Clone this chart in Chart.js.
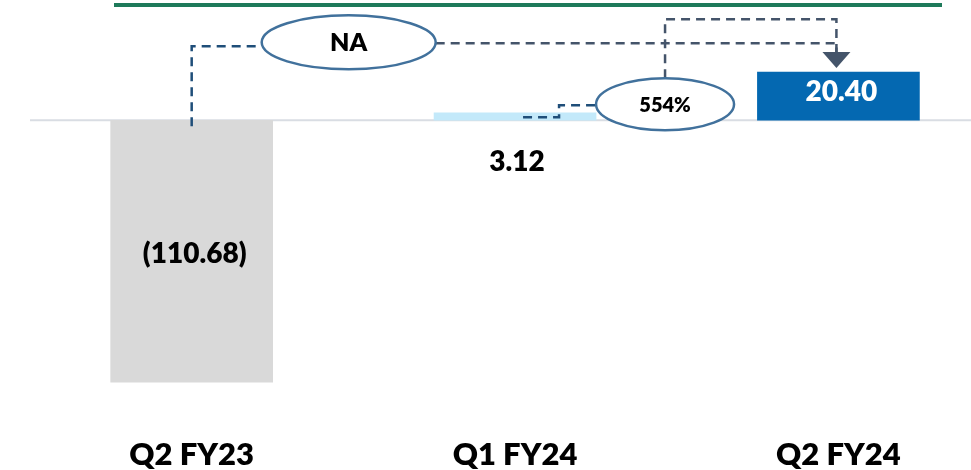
<!DOCTYPE html>
<html>
<head>
<meta charset="utf-8">
<script src="https://cdn.jsdelivr.net/npm/chart.js@4.4.1/dist/chart.umd.min.js"></script>
<style>
  html, body { margin: 0; padding: 0; background: #fff; overflow: hidden; }
  #wrap { position: relative; width: 971px; height: 470px; }
  #rule { position: absolute; left: 114px; top: 3px; width: 828px; height: 4px; background: #1e7a5a; }
</style>
</head>
<body>
<div id="wrap"><canvas id="c"></canvas><div id="rule"></div></div>
<script>
// Quarterly profit (₹ crore) and growth callouts
const quarters = ['Q2 FY23', 'Q1 FY24', 'Q2 FY24'];
const profit = [-110.68, 3.12, 20.40];
const barColors = ['#d9d9d9', '#c3e9fa', '#0468b1'];
const labelColors = ['#000000', '#000000', '#ffffff'];
const yoyLabel = 'NA';    // Q2 FY23 -> Q2 FY24
const qoqLabel = '554%';  // Q1 FY24 -> Q2 FY24

const FONT = 'Lato, "Open Sans", sans-serif';
const WEIGHT = '800';

function fmt(v) {
  const s = Math.abs(v).toFixed(2);
  return v < 0 ? '(' + s + ')' : s;
}

function polyline(ctx, pts) {
  ctx.beginPath();
  ctx.moveTo(pts[0][0], pts[0][1]);
  for (let i = 1; i < pts.length; i++) ctx.lineTo(pts[i][0], pts[i][1]);
  ctx.stroke();
}

function bubble(ctx, cx, cy, rx, ry, text, size) {
  ctx.save();
  ctx.setLineDash([]);
  ctx.beginPath();
  ctx.ellipse(cx, cy, rx, ry, 0, 0, Math.PI * 2);
  ctx.fillStyle = '#ffffff';
  ctx.fill();
  ctx.lineWidth = 2.5;
  ctx.strokeStyle = '#41719c';
  ctx.stroke();
  ctx.fillStyle = '#000';
  ctx.font = WEIGHT + ' ' + size + 'px ' + FONT;
  ctx.textAlign = 'center';
  ctx.textBaseline = 'middle';
  ctx.fillText(text, cx, cy + 1);
  ctx.restore();
}

// zero line behind the bars
const zeroLine = {
  id: 'zeroLine',
  beforeDatasetsDraw(chart) {
    const { ctx, chartArea, scales: { y } } = chart;
    const y0 = y.getPixelForValue(0);
    ctx.save();
    ctx.strokeStyle = '#d9dde3';
    ctx.lineWidth = 2;
    ctx.beginPath();
    ctx.moveTo(chartArea.left, y0);
    ctx.lineTo(chartArea.right, y0);
    ctx.stroke();
    ctx.restore();
  }
};

// value labels and growth connectors
const callouts = {
  id: 'callouts',
  afterDatasetsDraw(chart) {
    const { ctx, scales: { x, y } } = chart;
    const c = quarters.map((_, i) => x.getPixelForValue(i));
    const y0 = y.getPixelForValue(0);
    const ys = profit.map(v => y.getPixelForValue(v));

    ctx.save();
    ctx.font = WEIGHT + ' 28px ' + FONT;
    ctx.textAlign = 'center';
    ctx.textBaseline = 'middle';
    // loss bar: label in the middle of the bar
    ctx.fillStyle = labelColors[0];
    ctx.fillText(fmt(profit[0]), c[0] + 3, (y0 + ys[0]) / 2 + 3);
    // thin bar: label underneath the axis
    ctx.fillStyle = labelColors[1];
    ctx.fillText(fmt(profit[1]), c[1] + 2, y0 + 42);
    // latest bar: label inside
    ctx.fillStyle = labelColors[2];
    ctx.fillText(fmt(profit[2]), c[2] + 3, (y0 + ys[2]) / 2 - 4);
    ctx.restore();

    const arrowX = c[2] - 2;
    const arrowTop = ys[2] - 20;
    const tipY = ys[2] - 4;

    // YoY connector
    const naCx = c[0] + 157, naCy = y0 - 78, naRx = 87, naRy = 27;
    // QoQ connector
    const qCx = c[1] + 150, qCy = y0 - 16, qRx = 69, qRy = 26;
    const topY = y0 - 101;

    ctx.save();
    ctx.lineWidth = 2.5;
    ctx.setLineDash([9, 6]);
    ctx.strokeStyle = '#1f4e79';
    polyline(ctx, [[c[0], y0 + 6], [c[0], naCy + 4], [naCx - naRx, naCy + 4]]);
    polyline(ctx, [[c[1] + 8, y0 - 3], [c[1] + 44, y0 - 3], [c[1] + 44, qCy + 1], [qCx - qRx, qCy + 1]]);
    ctx.strokeStyle = '#44546a';
    polyline(ctx, [[naCx + naRx, naCy + 1], [arrowX, naCy + 1], [arrowX, arrowTop]]);
    polyline(ctx, [[qCx, qCy - qRy], [qCx, topY], [arrowX, topY], [arrowX, arrowTop]]);
    ctx.restore();

    // arrow head
    ctx.save();
    ctx.fillStyle = '#44546a';
    ctx.beginPath();
    ctx.moveTo(arrowX - 14, arrowTop);
    ctx.lineTo(arrowX + 14, arrowTop);
    ctx.lineTo(arrowX, tipY);
    ctx.closePath();
    ctx.fill();
    ctx.restore();

    bubble(ctx, naCx, naCy, naRx, naRy, yoyLabel, 25);
    bubble(ctx, qCx, qCy, qRx, qRy, qoqLabel, 20);
  }
};

new Chart(document.getElementById('c'), {
  type: 'bar',
  data: {
    datasets: [{
      data: profit.map((v, i) => ({ x: i, y: v })),
      backgroundColor: barColors,
      borderWidth: 0,
      barThickness: 162
    }]
  },
  options: {
    responsive: true,
    maintainAspectRatio: false,
    animation: false,
    layout: { padding: { left: 30, right: 0, top: 2, bottom: -12 } },
    plugins: { legend: { display: false }, tooltip: { enabled: false } },
    scales: {
      x: {
        type: 'linear',
        offset: false,
        min: -0.5,
        max: 2.41,
        grid: { display: false, drawTicks: false },
        border: { display: false },
        afterBuildTicks: s => { s.ticks = quarters.map((_, i) => ({ value: i })); },
        ticks: {
          padding: 8.5,
          autoSkip: false,
          maxRotation: 0,
          color: '#000',
          font: { family: FONT, weight: WEIGHT, size: 31 },
          callback: v => quarters[v] ?? ''
        }
      },
      y: { display: false, min: -130, max: 50 }
    }
  },
  plugins: [zeroLine, callouts]
});
</script>
</body>
</html>
